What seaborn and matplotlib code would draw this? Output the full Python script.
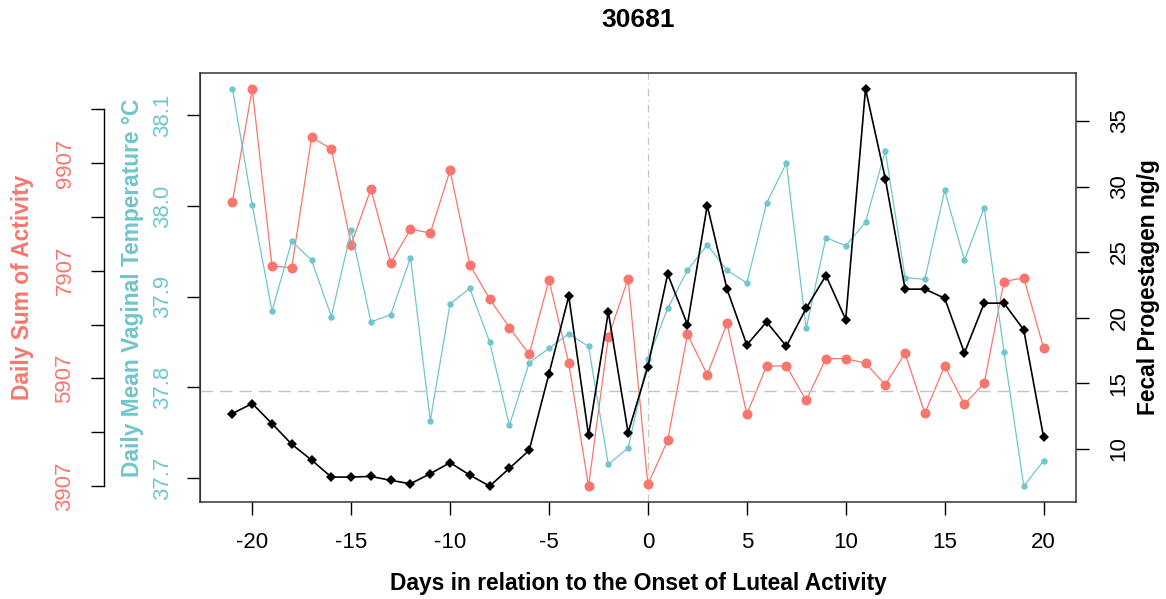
import matplotlib
matplotlib.use("Agg")
import matplotlib.pyplot as plt
import numpy as np
import pandas as pd
import seaborn as sns

# ---------------- data ----------------
days = [-21, -20, -19, -18, -17, -16, -15, -14, -13, -12, -11, -10, -9, -8, -7, -6,
        -5, -4, -3, -2, -1, 0, 1, 2, 3, 4, 5, 6, 7, 8, 9, 10, 11, 12, 13, 14, 15, 16,
        17, 18, 19, 20]

activity = [9186, 11281, 7991, 7965, 10381, 10165, 8392, 9422, 8046, 8678, 8604,
            9768, 8015, 7383, 6849, 6355, 7736, 6188, 3907, 6671, 7755, 3939,
            4756, 6727, 5976, 6931, 5240, 6137, 6137, 5500, 6273, 6273, 6188, 5790,
            6373, 5258, 6137, 5425, 5816, 7704, 7773, 6478]

temperature = [38.129, 38.001, 37.884, 37.961, 37.940, 37.878, 37.973, 37.872,
               37.880, 37.943, 37.763, 37.892, 37.909, 37.850, 37.758, 37.827,
               37.843, 37.859, 37.845, 37.715, 37.733, 37.831,
               37.887, 37.929, 37.957, 37.929, 37.915, 38.003, 38.047, 37.865,
               37.965, 37.956, 37.982, 38.061, 37.921, 37.919, 38.017, 37.940,
               37.998, 37.839, 37.691, 37.719]

progestagen = [12.68, 13.44, 11.91, 10.33, 9.13, 7.83, 7.83, 7.88, 7.58, 7.32, 8.09,
               8.93, 7.98, 7.14, 8.50, 9.87, 15.71, 21.63, 11.02, 20.43, 11.22, 16.25,
               23.32, 19.46, 28.55, 22.17, 17.91, 19.67, 17.81, 20.71, 23.21, 19.85,
               37.45, 30.61, 22.17, 22.17, 21.48, 17.30, 21.10, 21.10, 19.06, 10.89]

progestagen_threshold = 14.36

x_ticks = [-20, -15, -10, -5, 0, 5, 10, 15, 20]
temp_ticks = [37.7, 37.8, 37.9, 38.0, 38.1]
temp_tick_labels = ["37.7", "37.8", "37.9", "38.0", "38.1"]
act_ticks = [3907, 4907, 5907, 6907, 7907, 8907, 9907, 10907]
act_tick_labels = ["3907", "", "5907", "", "7907", "", "9907", ""]
prog_ticks = [10, 15, 20, 25, 30, 35]

title = "30681"
xlabel = "Days in relation to the Onset of Luteal Activity"
act_label = "Daily Sum of Activity"
temp_label = "Daily Mean Vaginal Temperature °C"
prog_label = "Fecal Progestagen ng/g"

# ---------------- style ----------------
sns.set_style("ticks")
plt.rcParams["font.family"] = ["Liberation Sans", "DejaVu Sans"]
plt.rcParams["text.color"] = "black"
plt.rcParams["axes.labelcolor"] = "black"
plt.rcParams["xtick.color"] = "black"
plt.rcParams["ytick.color"] = "black"

C_ACT = "#F8766D"
C_TEMP = "#70C6CE"
C_PROG = "#000000"
C_REF = "#C4C4C4"

df = pd.DataFrame({"day": days, "activity": activity,
                   "temperature": temperature, "progestagen": progestagen})


def padded(vals, frac=0.04):
    lo, hi = min(vals), max(vals)
    d = (hi - lo) * frac
    return lo - d, hi + d


W, H = 1166, 599
fig = plt.figure(figsize=(W / 100, H / 100), dpi=100)
L, R, T, B = 200, 1076, 73, 502
ax_a = fig.add_axes([L / W, 1 - B / H, (R - L) / W, (B - T) / H])
ax_t = ax_a.twinx()
ax_p = ax_a.twinx()

# ---------------- lines ----------------
sns.lineplot(data=df, x="day", y="activity", ax=ax_a, color=C_ACT, marker="o",
             markersize=7.2, markeredgewidth=0, linewidth=0.9, errorbar=None)
sns.lineplot(data=df, x="day", y="temperature", ax=ax_t, color=C_TEMP, marker="o",
             markersize=4.6, markeredgewidth=0, linewidth=0.9, errorbar=None)
sns.lineplot(data=df, x="day", y="progestagen", ax=ax_p, color=C_PROG, marker="D",
             markersize=5.0, markeredgewidth=0, linewidth=1.2, errorbar=None)

ax_a.axvline(0, color=C_REF, linestyle=(0, (6, 3, 1, 3)), linewidth=0.9, zorder=0)
ax_p.axhline(progestagen_threshold, color=C_REF, linestyle=(0, (9, 5)),
             linewidth=1.0, zorder=0)

# ---------------- limits ----------------
ax_a.set_xlim(*padded(days))
ax_a.set_ylim(*padded(activity))
ax_t.set_ylim(*padded(temperature))
ax_p.set_ylim(*padded(progestagen))

TICK_LEN = 9.5
FS_TICK = 16
FS_LAB = 16.4

# x axis
ax_a.set_xticks(x_ticks)
ax_a.set_xticklabels([str(v) for v in x_ticks])
ax_a.tick_params(axis="x", length=TICK_LEN, width=1, pad=12, labelsize=FS_TICK,
                 colors="black")
ax_a.set_xlabel(xlabel, fontsize=FS_LAB, fontweight="bold", color="black")
ax_a.xaxis.set_label_coords(0.5, -0.189)
ax_a.xaxis.label.set_va("center")

# activity axis (outer left)
for s in ["top", "right", "bottom"]:
    ax_a.spines[s].set_visible(False)
ax_a.spines["left"].set_position(("outward", 96 * 0.72))
ax_a.spines["left"].set_bounds(act_ticks[0], act_ticks[-1])
ax_a.spines["left"].set_color("black")
ax_a.spines["left"].set_linewidth(1)
ax_a.set_yticks(act_ticks)
ax_a.set_yticklabels(act_tick_labels)
ax_a.tick_params(axis="y", length=TICK_LEN, width=1, pad=11, labelsize=FS_TICK,
                 labelcolor=C_ACT, labelrotation=90)
for lbl in ax_a.get_yticklabels():
    lbl.set_va("center")
ax_a.set_ylabel(act_label, fontsize=FS_LAB, fontweight="bold", color=C_ACT)
ax_a.yaxis.set_label_coords((23 - L) / (R - L), 0.5)
ax_a.yaxis.label.set_va("center")

# temperature axis (inner left)
ax_t.yaxis.tick_left()
ax_t.yaxis.set_label_position("left")
for s in ["top", "right", "bottom"]:
    ax_t.spines[s].set_visible(False)
ax_t.spines["left"].set_color("#333333")
ax_t.set_yticks(temp_ticks)
ax_t.set_yticklabels(temp_tick_labels)
ax_t.tick_params(axis="y", length=TICK_LEN, width=1, pad=10, labelsize=FS_TICK,
                 labelcolor=C_TEMP, labelrotation=90)
for lbl in ax_t.get_yticklabels():
    lbl.set_va("center")
ax_t.set_ylabel(temp_label, fontsize=FS_LAB, fontweight="bold", color=C_TEMP)
ax_t.yaxis.set_label_coords((133 - L) / (R - L), 0.5)
ax_t.yaxis.label.set_va("center")

# progestagen axis (right) + box
for s in ["top", "right", "bottom", "left"]:
    ax_p.spines[s].set_visible(True)
    ax_p.spines[s].set_color("#333333")
    ax_p.spines[s].set_linewidth(1.1)
ax_p.set_yticks(prog_ticks)
ax_p.set_yticklabels([str(v) for v in prog_ticks])
ax_p.tick_params(axis="y", length=TICK_LEN, width=1, pad=14, labelsize=FS_TICK,
                 labelcolor="black", labelrotation=90)
for lbl in ax_p.get_yticklabels():
    lbl.set_va("center")
ax_p.set_ylabel(prog_label, fontsize=FS_LAB, fontweight="bold", color="black",
                rotation=90)
ax_p.yaxis.set_label_coords((1148 - L) / (R - L), 0.5)
ax_p.yaxis.label.set_va("center")

ax_a.set_title(title, fontsize=19, fontweight="bold", color="black",
               y=(B - 20) / (B - T), pad=0, va="center")

fig.savefig("out.png", dpi=100)
